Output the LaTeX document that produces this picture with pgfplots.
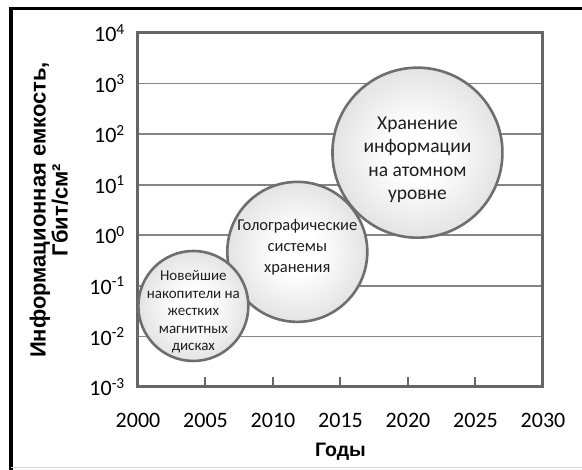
\documentclass[border=0pt]{standalone}
\usepackage{fontspec}
\setmainfont{Carlito}
\newfontfamily\arialfont{Liberation Sans}
\usepackage{pgfplots}
\pgfplotsset{compat=1.18}
\definecolor{framec}{HTML}{666666}
\definecolor{gridc}{HTML}{858585}
\definecolor{bubbleedge}{HTML}{6E6E6E}
\definecolor{bubbleout}{HTML}{BBBBBB}
\definecolor{textc}{HTML}{1E1E1E}
\pgfdeclareradialshading{bubbleshade}{\pgfpoint{0bp}{0bp}}{color(0bp)=(white); color(8bp)=(white); color(50bp)=(bubbleout); color(100bp)=(bubbleout)}
\tikzset{bubble/.style={circle, draw=bubbleedge, line width=2.6pt, shade, shading=bubbleshade, inner sep=0pt, anchor=center}}
\begin{document}
\begin{tikzpicture}
\useasboundingbox (0,0) rectangle (582pt,470pt);
\fill[white] (0,0) rectangle (582pt,470pt);
\draw[black, line width=3.5pt] (11pt,-5pt) -- (11pt,461.5pt) -- (600pt,461.5pt);
\draw[black!15, line width=1pt] (11pt,2pt) -- (600pt,2pt);
\begin{axis}[
  at={(138pt,83pt)}, anchor=south west,
  scale only axis, width=405pt, height=354pt,
  xmin=2000, xmax=2030,
  ymode=log, ymin=1e-3, ymax=1e4,
  xtick={2000,2005,2010,2015,2020,2025,2030},
  xticklabels={2000,2005,2010,2015,2020,2025,2030},
  ytick={1e-3,1e-2,1e-1,1,1e1,1e2,1e3,1e4},
  yticklabels={10\textsuperscript{-3},10\textsuperscript{-2},10\textsuperscript{-1},10\textsuperscript{0},10\textsuperscript{1},10\textsuperscript{2},10\textsuperscript{3},10\textsuperscript{4}},
  yminorticks=false,
  axis line style={framec, line width=3pt},
  ymajorgrids, major grid style={gridc, line width=1.8pt},
  tick align=inside, xtick pos=bottom, ytick pos=left,
  major tick length=10pt,
  xtick style={framec, line width=2pt},
  ytick style={draw=none},
  tick label style={font=\fontsize{22}{26}\selectfont, text=black},
  xticklabel style={anchor=center, yshift=-33pt},
  yticklabel style={anchor=east, inner sep=0pt, xshift=-13pt},
  xlabel={Годы},
  ylabel={Информационная емкость,\\Гбит/см²},
  xlabel style={font=\arialfont\bfseries\fontsize{19.5}{23}\selectfont, at={(axis description cs:0.5,-0.1836)}, anchor=center},
  ylabel style={font=\arialfont\bfseries\fontsize{22}{22}\selectfont, align=center, at={(axis description cs:-0.22,0.5)}, anchor=center},
  clip=false,
]
\addplot[only marks, mark=none, nodes near coords={},
  every node near coord/.append style={bubble, minimum size=170pt,
    label={[font=\fontsize{19.5}{23.5}\selectfont, align=center, text=textc, yshift=-7pt]center:Хранение\\информации\\на атомном\\уровне}}]
  coordinates {(2020.7,43)};
\addplot[only marks, mark=none, nodes near coords={},
  every node near coord/.append style={bubble, minimum size=140pt,
    label={[font=\fontsize{16.5}{21}\selectfont, align=center, text=textc, yshift=5pt]center:Голографические\\системы\\хранения}}]
  coordinates {(2011.8,0.47)};
\addplot[only marks, mark=none, nodes near coords={},
  every node near coord/.append style={bubble, minimum size=110pt,
    label={[font=\fontsize{15}{17.5}\selectfont, align=center, text=textc, yshift=-6pt]center:Новейшие\\накопители на\\жестких\\магнитных\\дисках}}]
  coordinates {(2004.1,0.04)};
\end{axis}
\end{tikzpicture}
\end{document}
